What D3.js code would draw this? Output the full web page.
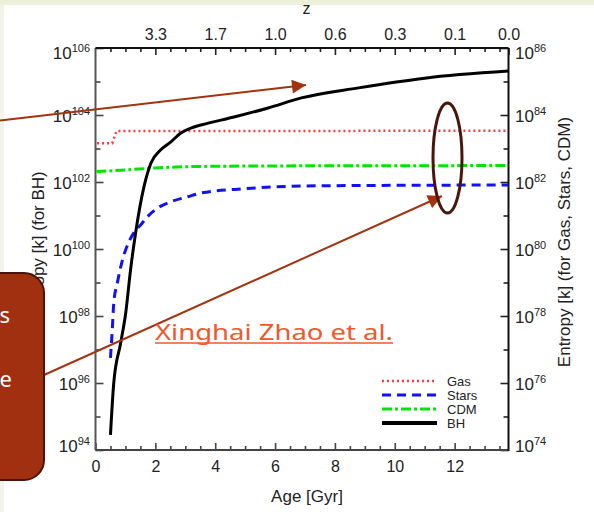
<!DOCTYPE html>
<html><head><meta charset="utf-8">
<script src="https://cdn.jsdelivr.net/npm/d3@7"></script>
<style>body{margin:0;background:#fff}svg{display:block}</style>
</head><body><script>
// ---- data ----
const ageTicks = [0, 2, 4, 6, 8, 10, 12];
const ageMinor = [0.5,1,1.5,2.5,3,3.5,4.5,5,5.5,6.5,7,7.5,8.5,9,9.5,10.5,11,11.5,12.5,13,13.5];
const topTickAges = [2, 4, 6, 8, 10, 12, 13.8];
const zLabels = ["3.3", "1.7", "1.0", "0.6", "0.3", "0.1", "0.0"];
const leftExps = [94, 96, 98, 100, 102, 104, 106];
const leftMinorExps = [95, 97, 99, 101, 103, 105];
const rightExps = [74, 76, 78, 80, 82, 84, 86];
const rightMinorExps = [75, 77, 79, 81, 83, 85];

// log10 of entropy; BH on left axis, others on right axis
const gasAge = [0.05, 0.56, 0.70, 13.8];
const gasLog = [83.16, 83.16, 83.52, 83.53];
const starsAge = [0.50, 0.56, 0.61, 0.73, 0.90, 1.12, 1.29, 1.51, 1.73, 2.07, 2.52, 3.08, 3.52, 5.0, 6.88, 10.0, 13.8];
const starsLog = [76.75, 77.58, 78.39, 78.99, 79.67, 80.22, 80.50, 80.72, 80.96, 81.22, 81.41, 81.56, 81.67, 81.80, 81.88, 81.90, 81.91];
const cdmAge = [0.03, 1.0, 2.0, 3.2, 6.0, 13.8];
const cdmLog = [82.31, 82.36, 82.42, 82.46, 82.48, 82.49];
const bhAge = [0.50, 0.61, 0.84, 1.01, 1.17, 1.34, 1.62, 1.85, 2.18, 2.52, 2.85, 3.19, 3.52, 4.63, 5.77, 6.88, 8.79, 11.0, 13.8];
const bhLog = [94.45, 96.0, 97.19, 98.09, 99.37, 100.48, 101.86, 102.56, 102.96, 103.20, 103.46, 103.61, 103.70, 103.94, 104.21, 104.51, 104.81, 105.10, 105.31];

const legendNames = ["Gas", "Stars", "CDM", "BH"];

// ---- drawing ----
const W = 594, H = 512;
const svg = d3.select("body").append("svg").attr("width", W).attr("height", H);
const FONT = "'Liberation Sans', Arial, sans-serif";

// slide background
svg.append("rect").attr("width", W).attr("height", H).attr("fill", "#f4f5ea");
svg.append("rect").attr("width", W).attr("height", 5).attr("fill", "#edf0da");
svg.append("rect").attr("x", 4).attr("y", 5).attr("width", W - 4).attr("height", H - 5).attr("fill", "#ffffff");

const L = 95.5, R = 508.5, T = 48, B = 450;
const x = d3.scaleLinear().domain([0, 13.8]).range([L, R]);
const yL = d3.scaleLog().domain([1e94, 1e106]).range([B, T]);
const yR = d3.scaleLog().domain([1e74, 1e86]).range([B, T]);

function styleAxis(g, col) {
  g.select(".domain").remove();
  g.selectAll(".tick line").attr("stroke", col).attr("stroke-width", 1.6);
  g.selectAll(".tick text").attr("font-family", FONT).attr("font-size", 16).attr("fill", "#222");
}

// bottom axis
const gb = svg.append("g").attr("transform", `translate(0,${B})`)
  .call(d3.axisBottom(x).tickValues(ageTicks).tickSize(-7).tickPadding(11).tickFormat(d3.format("d")));
styleAxis(gb, "#444");
const gbm = svg.append("g").attr("transform", `translate(0,${B})`)
  .call(d3.axisBottom(x).tickValues(ageMinor).tickSize(-4).tickFormat(""));
styleAxis(gbm, "#444");

// top axis (redshift)
const gt = svg.append("g").attr("transform", `translate(0,${T})`)
  .call(d3.axisTop(x).tickValues(topTickAges).tickSize(-7).tickPadding(8).tickFormat((d, i) => zLabels[i]));
styleAxis(gt, "#222");
const gtm = svg.append("g").attr("transform", `translate(0,${T})`)
  .call(d3.axisTop(x).tickValues(ageMinor).tickSize(-4).tickFormat(""));
styleAxis(gtm, "#222");

// left axis
const gl = svg.append("g").attr("transform", `translate(${L},0)`)
  .call(d3.axisLeft(yL).tickValues(leftExps.map(e => Math.pow(10, e))).tickSize(-8).tickFormat(""));
styleAxis(gl, "#444");
const glm = svg.append("g").attr("transform", `translate(${L},0)`)
  .call(d3.axisLeft(yL).tickValues(leftMinorExps.map(e => Math.pow(10, e))).tickSize(-5).tickFormat(""));
styleAxis(glm, "#444");

// right axis
const gr = svg.append("g").attr("transform", `translate(${R},0)`)
  .call(d3.axisRight(yR).tickValues(rightExps.map(e => Math.pow(10, e))).tickSize(-8).tickFormat(""));
styleAxis(gr, "#222");
const grm = svg.append("g").attr("transform", `translate(${R},0)`)
  .call(d3.axisRight(yR).tickValues(rightMinorExps.map(e => Math.pow(10, e))).tickSize(-5).tickFormat(""));
styleAxis(grm, "#222");

// frame lines
svg.append("line").attr("x1", L).attr("x2", L).attr("y1", T).attr("y2", B).attr("stroke", "#555").attr("stroke-width", 2);
svg.append("line").attr("x1", L).attr("x2", R).attr("y1", B).attr("y2", B).attr("stroke", "#444").attr("stroke-width", 2);
svg.append("line").attr("x1", R).attr("x2", R).attr("y1", T).attr("y2", B + 1).attr("stroke", "#111").attr("stroke-width", 2);
svg.append("line").attr("x1", L).attr("x2", R).attr("y1", T).attr("y2", T).attr("stroke", "#111").attr("stroke-width", 2);

// y tick labels with superscripts
function expLabel(scale, exps, xPos, anchor) {
  exps.forEach((e, i) => {
    let off = 7;
    if (i === exps.length - 1) off = 11;
    if (i === 0) off = 2;
    const t = svg.append("text").attr("x", xPos).attr("y", scale(Math.pow(10, e)) + off)
      .attr("text-anchor", anchor).attr("font-family", FONT).attr("fill", "#222");
    t.append("tspan").attr("font-size", 17).text("10");
    t.append("tspan").attr("font-size", 11).attr("dy", -7).text(e);
  });
}
expLabel(yL, leftExps, 90, "end");
expLabel(yR, rightExps, 515, "start");

// axis titles
svg.append("text").attr("x", 307).attr("y", 502).attr("text-anchor", "middle")
  .attr("font-family", FONT).attr("font-size", 17).attr("fill", "#222").text("Age [Gyr]");
svg.append("text").attr("x", 306.5).attr("y", 13.5).attr("text-anchor", "middle")
  .attr("font-family", FONT).attr("font-size", 16).attr("fill", "#222").text("z");
svg.append("text").attr("transform", "translate(44,244) rotate(-90)").attr("text-anchor", "middle")
  .attr("font-family", FONT).attr("font-size", 17).attr("fill", "#222").text("Entropy [k] (for BH)");
svg.append("text").attr("transform", "translate(570,242) rotate(-90)").attr("text-anchor", "middle")
  .attr("font-family", FONT).attr("font-size", 17).attr("fill", "#222").text("Entropy [k] (for Gas, Stars, CDM)");

// series
const clip = svg.append("clipPath").attr("id", "plot").append("rect")
  .attr("x", L).attr("y", T).attr("width", R - L).attr("height", B - T);
const plot = svg.append("g").attr("clip-path", "url(#plot)");

function series(ages, logs, yScale, curve) {
  return d3.line().curve(curve).x((d, i) => x(ages[i])).y((d, i) => yScale(Math.pow(10, logs[i])))(logs);
}
const styles = {
  Gas:   {color: "#ff3b3b", w: 2.5, dash: "2,3", path: series(gasAge, gasLog, yR, d3.curveLinear)},
  Stars: {color: "#1010ff", w: 3, dash: "9,6", path: series(starsAge, starsLog, yR, d3.curveMonotoneX)},
  CDM:   {color: "#00e600", w: 3, dash: "10,3,3,3", path: series(cdmAge, cdmLog, yR, d3.curveMonotoneX)},
  BH:    {color: "#000000", w: 3, dash: null, path: series(bhAge, bhLog, yL, d3.curveMonotoneX)}
};
legendNames.forEach(n => {
  const s = styles[n];
  plot.append("path").attr("d", s.path).attr("fill", "none").attr("stroke", s.color)
    .attr("stroke-width", s.w).attr("stroke-dasharray", s.dash);
});

// legend
legendNames.forEach((n, i) => {
  const s = styles[n];
  const yy = 381 + i * 14;
  svg.append("line").attr("x1", 382).attr("x2", 437).attr("y1", yy).attr("y2", yy)
    .attr("stroke", s.color).attr("stroke-width", n === "BH" ? 4 : s.w).attr("stroke-dasharray", s.dash);
  svg.append("text").attr("x", 447).attr("y", yy + 4.5).attr("font-family", FONT).attr("font-size", 13)
    .attr("fill", "#222").text(n);
});

// ---- slide annotations ----
const defs = svg.append("defs");
defs.append("marker").attr("id", "ah").attr("viewBox", "0 0 10 10").attr("refX", 10).attr("refY", 5)
  .attr("markerUnits", "userSpaceOnUse").attr("markerWidth", 17).attr("markerHeight", 14).attr("orient", "auto")
  .append("path").attr("d", "M0,0 L10,5 L0,10 z").attr("fill", "#a3330f");

svg.append("line").attr("x1", 0).attr("y1", 120.5).attr("x2", 306).attr("y2", 85)
  .attr("stroke", "#a3330f").attr("stroke-width", 2).attr("marker-end", "url(#ah)");
svg.append("line").attr("x1", 44).attr("y1", 375).attr("x2", 442).attr("y2", 196)
  .attr("stroke", "#a3330f").attr("stroke-width", 2).attr("marker-end", "url(#ah)");

svg.append("ellipse").attr("cx", 447.5).attr("cy", 158).attr("rx", 14.5).attr("ry", 55)
  .attr("fill", "none").attr("stroke", "#4a160b").attr("stroke-width", 3);

// reference link
svg.append("text").attr("x", 155).attr("y", 340).attr("font-family", "'Noto Sans', 'Open Sans', sans-serif")
  .attr("font-size", 22).attr("fill", "#f0582c").attr("textLength", 238).attr("lengthAdjust", "spacingAndGlyphs")
  .text("Xinghai Zhao et al.");
svg.append("line").attr("x1", 155).attr("x2", 393).attr("y1", 343).attr("y2", 343)
  .attr("stroke", "#f0582c").attr("stroke-width", 1.5);

// red callout box (cut off at left edge)
svg.append("rect").attr("x", -30).attr("y", 273).attr("width", 74).attr("height", 207).attr("rx", 20)
  .attr("fill", "#a0300f").attr("stroke", "#4a140a").attr("stroke-width", 2);
svg.append("text").attr("x", 10).attr("y", 323).attr("text-anchor", "end")
  .attr("font-family", "'Noto Sans', sans-serif").attr("font-size", 22).attr("fill", "#fff").text("s");
svg.append("text").attr("x", 12).attr("y", 387).attr("text-anchor", "end")
  .attr("font-family", "'Noto Sans', sans-serif").attr("font-size", 22).attr("fill", "#fff").text("e");
</script></body></html>
